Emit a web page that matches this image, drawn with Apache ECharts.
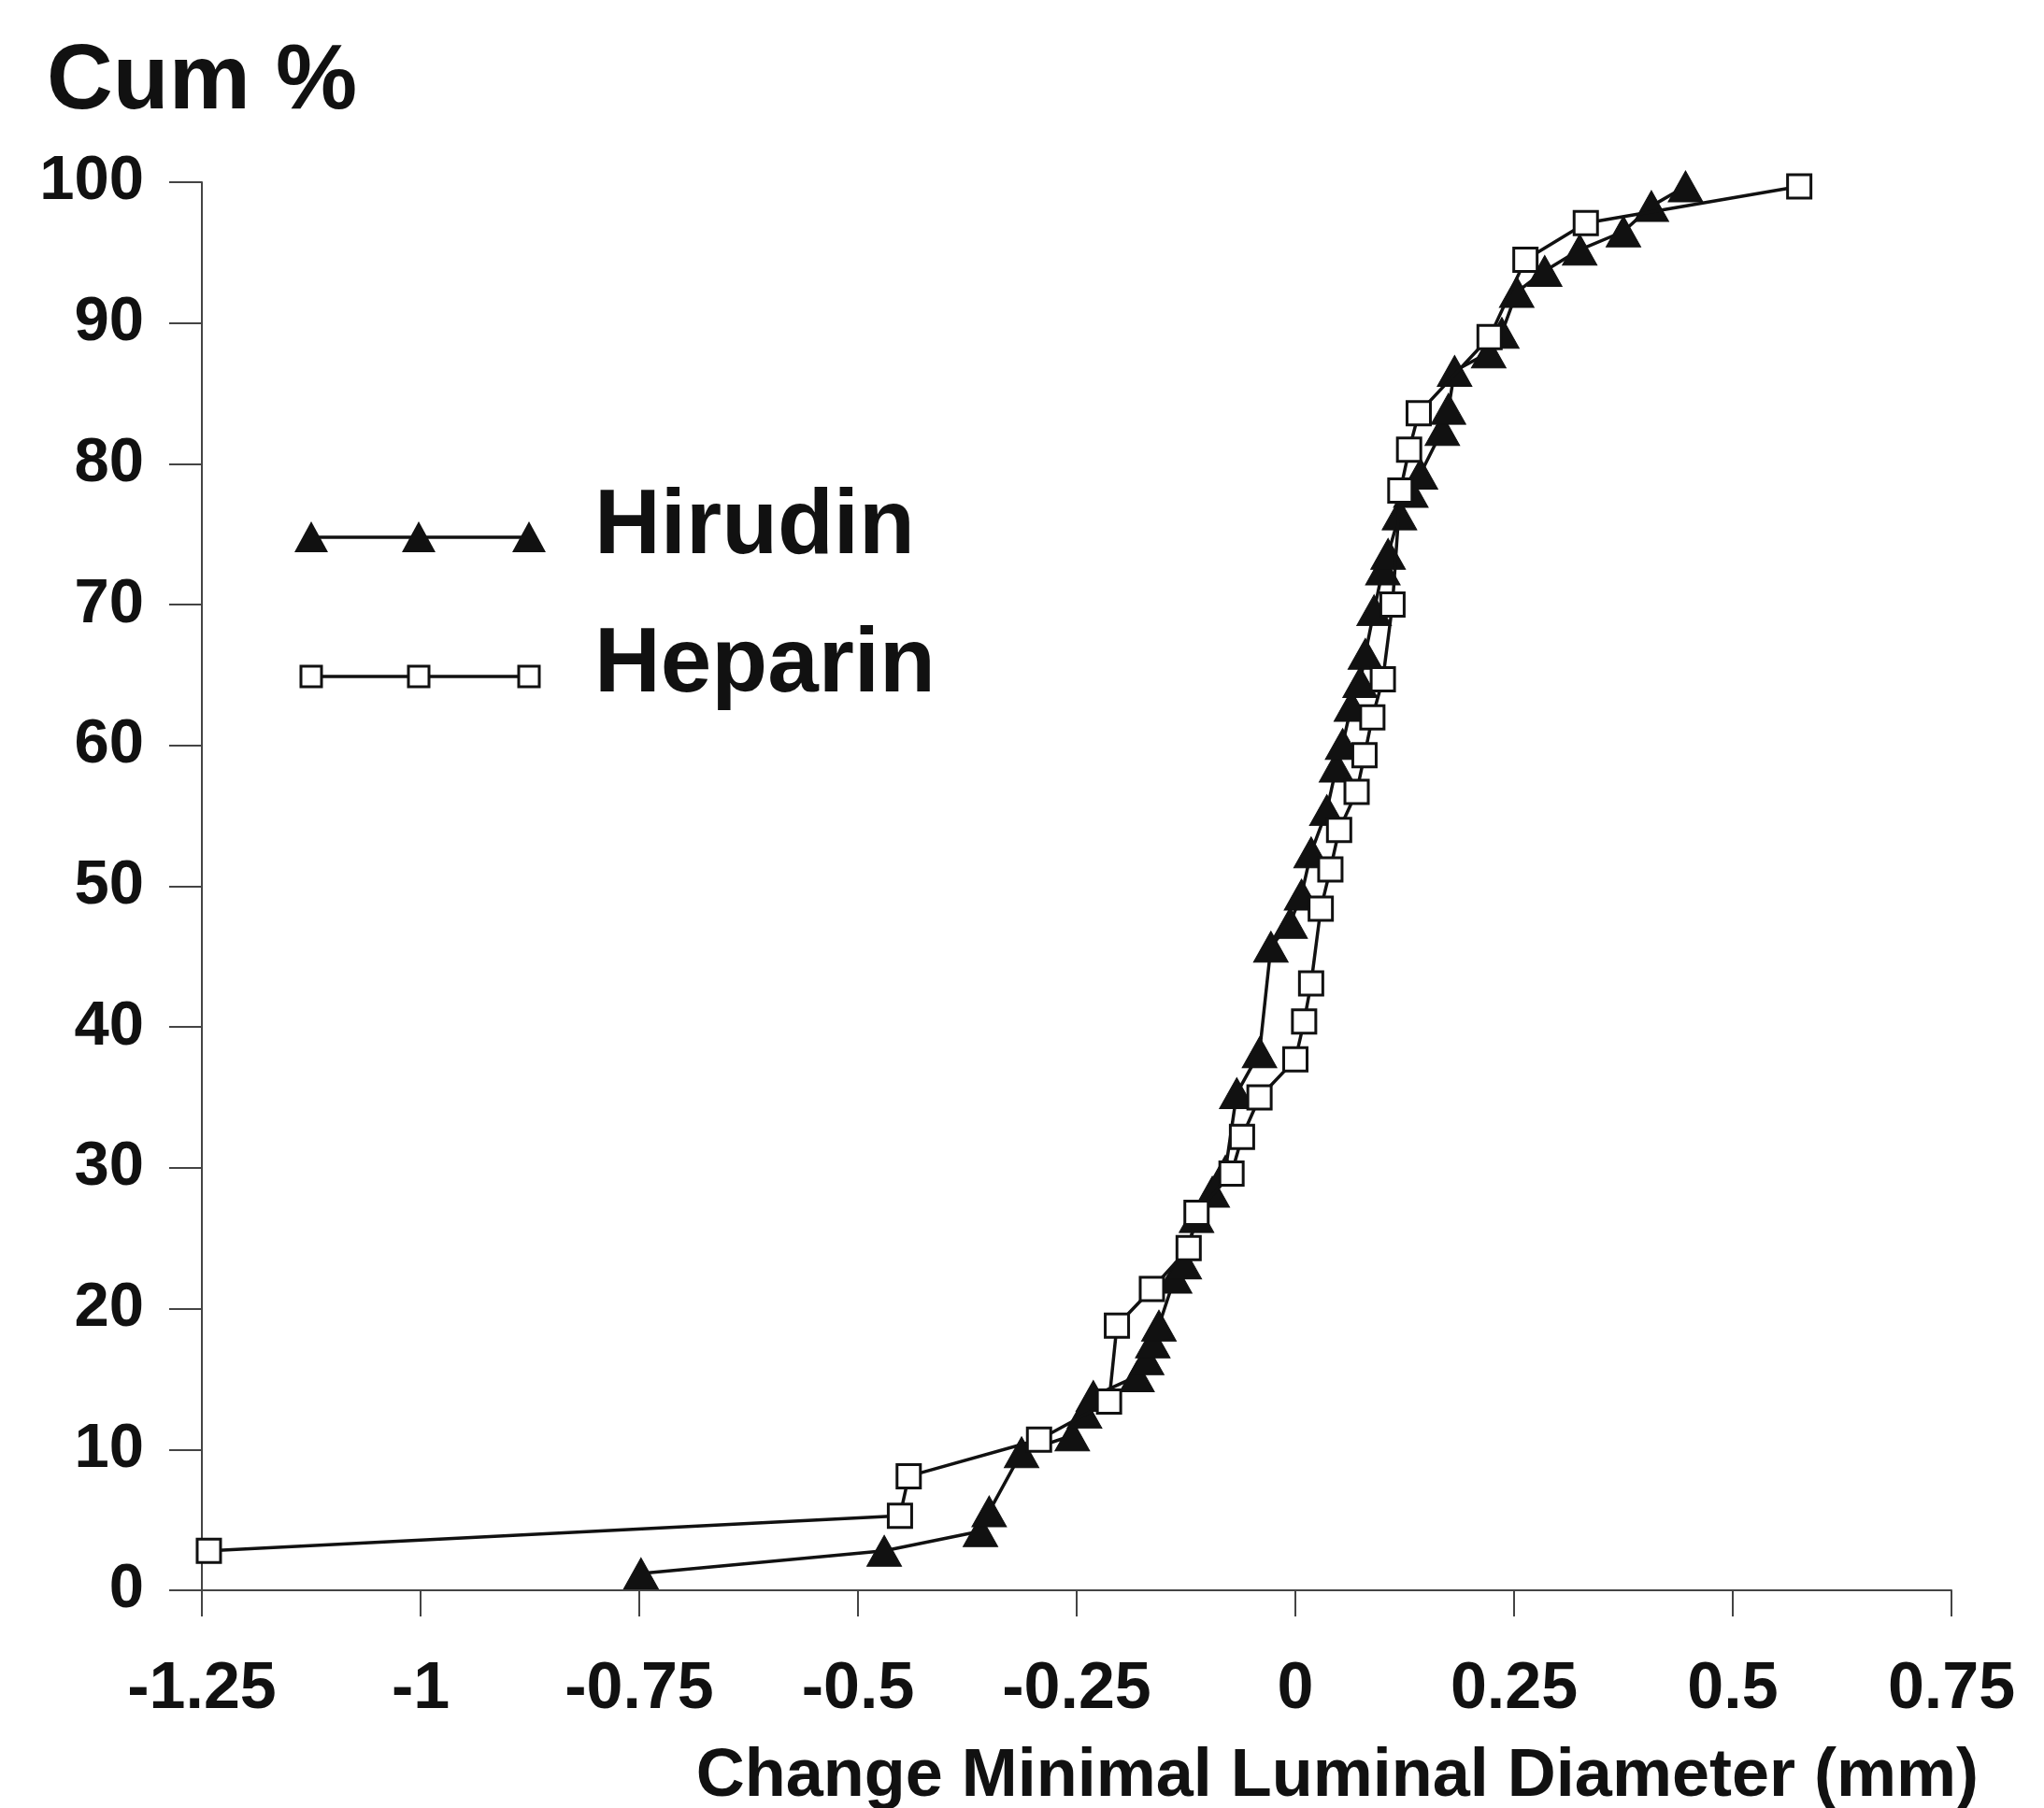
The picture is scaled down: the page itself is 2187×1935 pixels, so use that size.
<!DOCTYPE html>
<html>
<head>
<meta charset="utf-8">
<title>Cum % - Change Minimal Luminal Diameter</title>
<script src="https://cdn.jsdelivr.net/npm/echarts@6/dist/echarts.min.js"></script>
<style>
  html, body { margin: 0; padding: 0; background: #fff; }
  #chart { width: 2187px; height: 1935px; }
</style>
</head>
<body>
<div id="chart"></div>
<script>
// 数据：近似值
var xTicks = [-1.25, -1, -0.75, -0.5, -0.25, 0, 0.25, 0.5, 0.75]
var yTicks = [0, 10, 20, 30, 40, 50, 60, 70, 80, 90, 100]

var hirudinX = [-0.748, -0.47, -0.36, -0.35, -0.313, -0.255, -0.241, -0.231, -0.181, -0.170,
  -0.163, -0.156, -0.138, -0.127, -0.113, -0.095, -0.080, -0.067, -0.041, -0.028,
  -0.006, 0.007, 0.018, 0.036, 0.047, 0.054, 0.064, 0.074, 0.080, 0.090,
  0.100, 0.106, 0.119, 0.132, 0.143, 0.168, 0.175, 0.182, 0.221, 0.236,
  0.253, 0.285, 0.325, 0.375, 0.407, 0.446]
var hirudinY = [1.2, 2.8, 4.2, 5.6, 9.8, 11.0, 12.6, 13.8, 15.2, 16.4,
  17.6, 18.8, 22.2, 23.2, 26.5, 28.3, 29.8, 35.3, 38.2, 45.7,
  47.4, 49.4, 52.4, 55.4, 58.5, 60.1, 62.8, 64.5, 66.5, 69.6,
  72.5, 73.6, 76.4, 78.0, 79.3, 82.4, 83.9, 86.6, 87.9, 89.3,
  92.2, 93.7, 95.2, 96.5, 98.3, 99.7]

var heparinX = [-1.242, -0.452, -0.442, -0.293, -0.213, -0.204, -0.164, -0.122, -0.113, -0.073,
  -0.061, -0.041, 0.000, 0.010, 0.018, 0.029, 0.040, 0.050, 0.070, 0.079,
  0.088, 0.100, 0.111, 0.120, 0.130, 0.141, 0.222, 0.263, 0.332, 0.576]
var heparinY = [2.8, 5.3, 8.1, 10.7, 13.4, 18.8, 21.4, 24.3, 26.8, 29.6,
  32.2, 35.0, 37.7, 40.4, 43.1, 48.4, 51.2, 54.0, 56.7, 59.3,
  62.0, 64.7, 70.0, 78.1, 81.0, 83.6, 89.0, 94.5, 97.1, 99.7]

function pairs(xs, ys) {
  return xs.map(function (x, i) { return [x, ys[i]] })
}

var FONT = '"Liberation Sans", Arial, Helvetica, sans-serif'
var INK = '#111'

var chart = echarts.init(document.getElementById('chart'))

var option = {
  backgroundColor: '#fff',
  animation: false,
  grid: { left: 216, right: 99, top: 195, bottom: 233, containLabel: false },
  xAxis: {
    type: 'value',
    min: xTicks[0],
    max: xTicks[xTicks.length - 1],
    interval: 0.25,
    axisLine: { onZero: false, lineStyle: { color: '#444', width: 2 } },
    axisTick: { show: true, inside: false, length: 28, lineStyle: { color: '#444', width: 2 } },
    axisLabel: { margin: 72, fontFamily: FONT, fontWeight: 'bold', fontSize: 70, color: INK },
    splitLine: { show: false }
  },
  yAxis: {
    type: 'value',
    min: yTicks[0],
    max: yTicks[yTicks.length - 1],
    interval: 10,
    axisLine: { show: true, onZero: false, lineStyle: { color: '#444', width: 2 } },
    axisTick: { show: true, inside: false, length: 35, lineStyle: { color: '#444', width: 2 } },
    axisLabel: { margin: 62, fontFamily: FONT, fontWeight: 'bold', fontSize: 67, color: INK },
    splitLine: { show: false }
  },
  series: [
    {
      name: 'Hirudin',
      type: 'line',
      data: pairs(hirudinX, hirudinY),
      symbol: 'triangle',
      symbolSize: [37, 33],
      lineStyle: { color: INK, width: 3.5 },
      itemStyle: { color: INK, borderColor: INK, borderWidth: 1 },
      z: 2
    },
    {
      name: 'Heparin',
      type: 'line',
      data: pairs(heparinX, heparinY),
      symbol: 'rect',
      symbolSize: 25,
      lineStyle: { color: INK, width: 3.5 },
      itemStyle: { color: '#fff', borderColor: INK, borderWidth: 3 },
      z: 3
    }
  ],
  graphic: [
    // 标题
    { type: 'text', left: 50, top: 40, style: { text: 'Cum %', font: 'bold 98px ' + FONT, fill: INK } },
    {
      type: 'text', right: 70, top: 1866,
      style: { text: 'Change Minimal Luminal Diameter (mm)', font: 'bold 72px ' + FONT, fill: INK }
    },
    // 图例
    { type: 'polyline', shape: { points: [[333, 575], [566, 575]] }, style: { stroke: INK, lineWidth: 3.5 } },
    { type: 'polygon', shape: { points: [[315, 591], [351, 591], [333, 558]] }, style: { fill: INK } },
    { type: 'polygon', shape: { points: [[430, 591], [466, 591], [448, 558]] }, style: { fill: INK } },
    { type: 'polygon', shape: { points: [[548, 591], [584, 591], [566, 558]] }, style: { fill: INK } },
    { type: 'text', left: 636, top: 516, style: { text: 'Hirudin', font: 'bold 98px ' + FONT, fill: INK } },
    { type: 'polyline', shape: { points: [[333, 724], [566, 724]] }, style: { stroke: INK, lineWidth: 3.5 } },
    { type: 'rect', shape: { x: 322, y: 713, width: 22, height: 22 }, style: { fill: '#fff', stroke: INK, lineWidth: 3 } },
    { type: 'rect', shape: { x: 437, y: 713, width: 22, height: 22 }, style: { fill: '#fff', stroke: INK, lineWidth: 3 } },
    { type: 'rect', shape: { x: 555, y: 713, width: 22, height: 22 }, style: { fill: '#fff', stroke: INK, lineWidth: 3 } },
    { type: 'text', left: 636, top: 664, style: { text: 'Heparin', font: 'bold 98px ' + FONT, fill: INK } }
  ]
}

chart.setOption(option)
window.addEventListener('resize', function () { chart.resize() })
</script>
</body>
</html>
